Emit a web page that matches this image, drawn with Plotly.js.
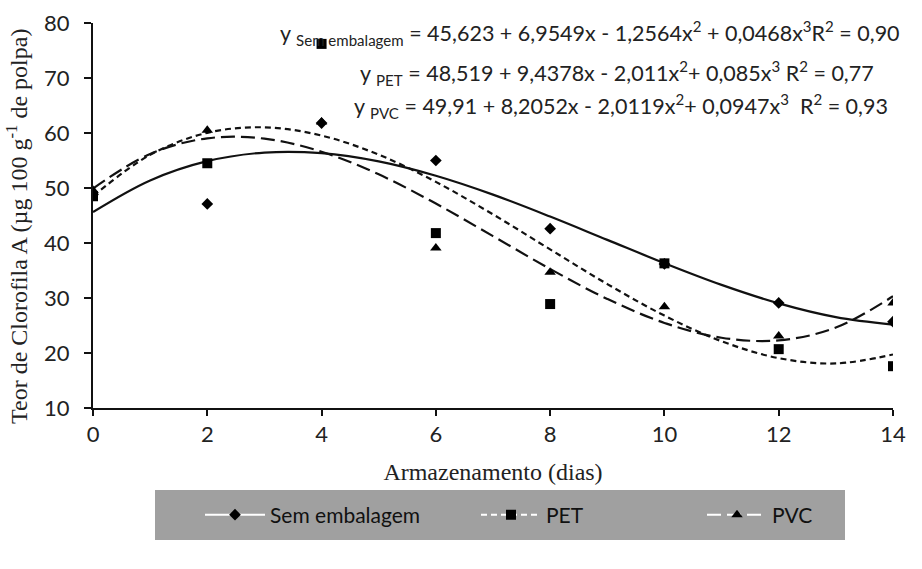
<!DOCTYPE html>
<html>
<head>
<meta charset="utf-8">
<script src="https://cdn.plot.ly/plotly-3.0.1.min.js"></script>
<style>html,body{margin:0;padding:0;background:#fff;}#chart{width:922px;height:569px;}</style>
</head>
<body>
<div id="chart"></div>
<script>
// Observed data (days of storage)
const days = [0, 2, 4, 6, 8, 10, 12, 14];
const semEmbalagem = [48.8, 47.1, 61.8, 55.0, 42.6, 36.2, 29.1, 25.7];
const pet = [48.5, 54.5, 76.2, 41.8, 28.9, 36.3, 20.7, 17.6];
const pvc = [49.6, 60.5, 62.0, 39.1, 34.7, 28.4, 23.1, 29.1];

// Trend line values
const trendDays = [0,1,2,3,4,5,6,7,8,9,10,11,12,13,14];
const semTrend = [45.62,51.37,54.88,56.44,56.34,54.84,52.23,48.80,44.81,40.57,36.33,32.39,29.03,26.53,25.16];
const petTrend = [48.52,56.03,60.03,61.03,59.53,56.06,51.11,45.20,38.84,32.53,26.80,22.14,19.07,18.10,19.73];
const pvcTrend = [49.91,56.20,59.03,58.98,56.60,52.48,47.17,41.25,35.28,29.83,25.47,22.77,22.30,24.62,30.31];

const seriesNames = ["Sem embalagem", "PET", "PVC"];
const equations = [
  "y <sub>Sem embalagem</sub> = 45,623 + 6,9549x - 1,2564x<sup>2</sup> + 0,0468x<sup>3</sup>R<sup>2</sup> = 0,90",
  "y <sub>PET</sub> = 48,519 + 9,4378x - 2,011x<sup>2</sup>+ 0,085x<sup>3</sup> R<sup>2</sup> = 0,77",
  "y <sub>PVC</sub> = 49,91 + 8,2052x - 2,0119x<sup>2</sup>+ 0,0947x<sup>3</sup>  R<sup>2</sup> = 0,93"
];
const xTitle = "Armazenamento (dias)";
const yTitle = "Teor de Clorofila A (µg 100 g<sup>-1</sup> de polpa)";
const yRange = [10, 80];

const symbols = ["diamond", "square", "triangle-up"];
const sizes = [9, 10, 10];
const dashes = ["solid", "6px,4px", "14px,6px"];
const obs = [semEmbalagem, pet, pvc];
const trends = [semTrend, petTrend, pvcTrend];
const legendIds = ["legend", "legend2", "legend3"];

const traces = [];
for (let i = 0; i < 3; i++) {
  traces.push({
    x: trendDays, y: trends[i], type: "scatter", mode: "lines",
    line: {color: "#111", width: 2.2, dash: dashes[i], shape: "spline"},
    showlegend: false, hoverinfo: "skip"
  });
}
for (let i = 0; i < 3; i++) {
  traces.push({
    x: days, y: obs[i], type: "scatter", mode: "markers",
    marker: {symbol: symbols[i], size: sizes[i], color: "#000"},
    showlegend: false
  });
}
// legend-only entries (no points drawn); they also keep the label axis alive
for (let i = 0; i < 3; i++) {
  traces.push({
    x: [null], y: [null], type: "scatter", mode: "lines+markers", name: seriesNames[i],
    legend: legendIds[i], showlegend: true, yaxis: "y2",
    line: {color: "#fff", width: 2, dash: dashes[i]},
    marker: {symbol: symbols[i], size: sizes[i], color: "#000"}
  });
}

const L = 93, R = 893, T = 23, B = 408;
const px = v => (v - L) / (R - L);
const py = v => (B - v) / (B - T);

const legendFont = {family: "Lato, 'Open Sans', sans-serif", size: 21, color: "#111"};
const mkLegend = xpix => ({
  x: px(xpix), y: py(515), xanchor: "left", yanchor: "middle",
  orientation: "h", bgcolor: "rgba(0,0,0,0)", borderwidth: 0,
  font: legendFont, itemwidth: 60
});

const eqFont = {family: "Lato, 'Open Sans', sans-serif", size: 21.5, color: "#222"};
const eqPos = [[278, 33], [358, 73], [352, 106]];
const annotations = equations.map((t, i) => ({
  text: t, xref: "paper", yref: "paper", x: px(eqPos[i][0]), y: py(eqPos[i][1]),
  xanchor: "left", yanchor: "middle", showarrow: false, font: eqFont
}));
annotations.push({
  text: yTitle, xref: "paper", yref: "paper", x: px(17), y: py(227),
  xanchor: "center", yanchor: "middle", textangle: -90, showarrow: false,
  font: {family: "'Liberation Serif', serif", size: 24, color: "#222"}
});

const layout = {
  width: 922, height: 569, showlegend: true,
  margin: {l: L, r: 922 - R, t: T, b: 569 - B},
  paper_bgcolor: "#fff", plot_bgcolor: "#fff",
  xaxis: {
    range: [0, 14], tickvals: [0,2,4,6,8,10,12,14], showgrid: false, zeroline: false,
    showline: true, linecolor: "#111", linewidth: 2, ticks: "outside", ticklen: 6, tickwidth: 2, tickcolor: "#111",
    tickfont: {family: "Lato, 'Open Sans', sans-serif", size: 22, color: "#222"},
    title: {text: xTitle, font: {family: "'Liberation Serif', serif", size: 24, color: "#222"}, standoff: 17}
  },
  yaxis: {
    range: yRange, dtick: 10, showgrid: false, zeroline: false, showticklabels: false,
    showline: true, linecolor: "#111", linewidth: 2, ticks: "outside", ticklen: 7, tickwidth: 2, tickcolor: "#111"
  },
  yaxis2: {
    range: yRange, dtick: 10, overlaying: "y", side: "left", anchor: "x",
    showgrid: false, zeroline: false, showline: false,
    ticks: "outside", ticklen: 18, tickcolor: "rgba(0,0,0,0)",
    tickfont: {family: "Lato, 'Open Sans', sans-serif", size: 22, color: "#222"}
  },
  shapes: [{
    type: "rect", xref: "paper", yref: "paper", x0: px(155), x1: px(845), y0: py(540), y1: py(490),
    fillcolor: "#a0a0a0", line: {width: 0}, layer: "below"
  }],
  legend: mkLegend(200), legend2: mkLegend(476), legend3: mkLegend(702),
  annotations: annotations
};

Plotly.newPlot("chart", traces, layout, {displayModeBar: false, staticPlot: true});
</script>
</body>
</html>
